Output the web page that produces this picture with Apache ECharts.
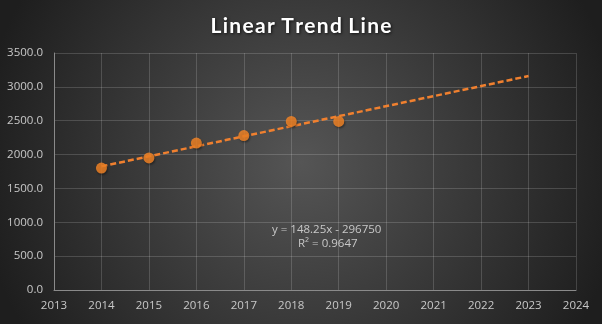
<!DOCTYPE html>
<html><head><meta charset="utf-8">
<script src="https://cdn.jsdelivr.net/npm/echarts@6/dist/echarts.min.js"></script>
<style>html,body{margin:0;padding:0;background:#333}#c{width:602px;height:324px}</style>
</head><body><div id="c"></div>
<script>
const years = [2014, 2015, 2016, 2017, 2018, 2019];
const values = [1800, 1950, 2170, 2280, 2490, 2490];
const trendX = [2014, 2023];
const trendY = [1825.5, 3159.75];
const titleText = 'Linear Trend Line';
const eqText = 'y = 148.25x - 296750';
const r2Text = 'R² = 0.9647';

const spacedTitle = titleText.split(' ').map(w => w.split('').join('\u200A')).join(' \u200A');

const chart = echarts.init(document.getElementById('c'));
chart.setOption({
  animation: false,
  backgroundColor: {type:'radial', x:0.5, y:0.5, r:1.0,
    colorStops:[{offset:0,color:'#555555'},{offset:1,color:'#1e1e1e'}]},
  title: {text: spacedTitle, left:'center', top:11,
    textStyle:{color:'#ffffff', fontFamily:'Lato', fontWeight:'bold', fontSize:21,
      textShadowColor:'rgba(0,0,0,0.7)', textShadowBlur:3, textShadowOffsetX:1, textShadowOffsetY:1}},
  grid: {left:54, right:26, top:53, bottom:34, containLabel:false},
  xAxis: {type:'value', min:2013, max:2024, interval:1,
    axisLine:{show:true, lineStyle:{color:'#8a8a8a'}},
    axisTick:{show:false},
    splitLine:{show:true, lineStyle:{color:'rgba(255,255,255,0.16)'}},
    axisLabel:{color:'#c8c8c8', fontFamily:'Open Sans', fontSize:11.5, margin:10, formatter:v=>String(v)}},
  yAxis: {type:'value', min:0, max:3500, interval:500,
    axisLine:{show:true, lineStyle:{color:'#8a8a8a'}},
    axisTick:{show:false},
    splitLine:{show:true, lineStyle:{color:'rgba(255,255,255,0.16)'}},
    axisLabel:{color:'#c8c8c8', fontFamily:'Open Sans', fontSize:11.5, margin:11,
      formatter:v=>v.toFixed(1)}},
  series: [
    {type:'line', data: trendX.map((x,i)=>[x, trendY[i]]), showSymbol:false, symbol:'none',
     lineStyle:{color:'#F0802F', width:2.5, type:[6,3]}, z:2},
    {type:'scatter', data: years.map((x,i)=>[x, values[i]]), symbol:'circle', symbolSize:11,
     itemStyle:{color:'#FA8726', shadowColor:'rgba(0,0,0,0.45)', shadowBlur:2, shadowOffsetX:1, shadowOffsetY:1.5}, z:3}
  ],
  graphic: [
    {type:'text', left:272, top:224, style:{text:eqText, fill:'#c8c8c8', font:'11.5px "Open Sans"'}},
    {type:'text', left:298, top:238, style:{text:r2Text, fill:'#c8c8c8', font:'11.5px "Open Sans"'}}
  ]
});
</script></body></html>
